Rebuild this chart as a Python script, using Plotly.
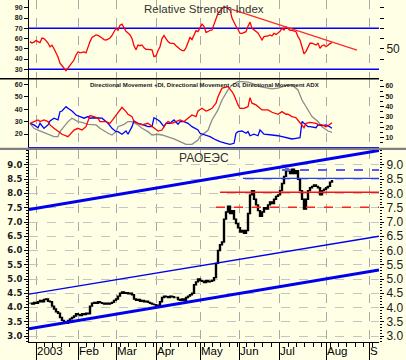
import plotly.graph_objects as go

# ---------------- DATA ----------------
# trading-day index 0..151 (Jan 2003 .. mid Aug 2003)
close = [4.15, 4.12, 4.18, 4.15, 4.20, 4.25, 4.20, 4.28, 4.30, 4.22,
         4.20, 4.05, 3.95, 3.85, 3.80, 3.65, 3.55, 3.50, 3.45, 3.55,
         3.60, 3.65, 3.70, 3.78, 3.75, 3.72, 3.78, 3.75, 3.80, 3.78,
         4.05, 4.15, 4.18, 4.15, 4.20, 4.17, 4.15, 4.12, 4.15, 4.12,
         4.15, 4.18, 4.25, 4.30, 4.40, 4.50, 4.55, 4.50, 4.52, 4.48,
         4.50, 4.45, 4.30, 4.25, 4.28, 4.22, 4.25, 4.20, 4.22, 4.18,
         4.15, 4.12, 4.10, 4.05, 4.08, 4.20, 4.35, 4.40, 4.38, 4.35,
         4.40, 4.38, 4.35, 4.35, 4.28, 4.25, 4.30, 4.25, 4.35, 4.40,
         4.45, 4.50, 4.80, 4.90, 5.00, 4.95, 4.92, 4.88, 4.95, 4.90,
         4.92, 4.95, 5.05, 5.55, 6.00, 6.20, 6.30, 7.10, 7.35, 7.55,
         7.30, 7.40, 7.10, 6.95, 6.80, 6.65, 6.70, 6.60, 6.70, 7.30,
         7.95, 8.10, 7.80, 7.60, 7.40, 7.20, 7.35, 7.50, 7.45, 7.60,
         7.70, 7.65, 7.80, 7.90, 7.95, 8.10, 8.35, 8.60, 8.85, 8.80,
         8.70, 8.85, 8.70, 8.80, 8.50, 8.10, 7.80, 7.45, 7.80, 8.10,
         8.20, 8.25, 8.30, 8.25, 8.20, 7.95, 8.10, 8.15, 8.20, 8.25,
         8.40, 8.45]
days = list(range(len(close)))
open_ = [close[0]] + close[:-1]

rsi = [57, 55.6, 56.5, 58, 57, 56, 60.5, 60, 58, 55.6,
       52, 53.5, 50, 46.5, 42, 36, 34, 31, 28.6, 31,
       34, 36.5, 39, 44, 47, 46, 46.5, 47, 46, 52,
       57, 61, 62.5, 63.5, 63, 62, 60.5, 59, 58.6, 59.5,
       60.5, 63, 67, 70, 68, 73, 74, 70, 67, 65.5,
       63.5, 60, 53, 49, 53.7, 53, 53.7, 51, 49.5, 49.5,
       49.5, 49, 42.3, 43, 48, 52, 60, 63, 60, 57,
       55.6, 55.6, 55, 53, 51, 49.5, 48.5, 48, 51, 57,
       61, 59, 64, 67.7, 66.7, 70, 74, 72, 66, 66.7,
       68, 68.3, 74, 78, 84.6, 87, 89.5, 91, 90.5, 89.5,
       88, 80, 75, 72, 69, 65, 65, 65.5, 66.7, 72,
       76, 70, 68.3, 67, 65.5, 62, 58.6, 61.8, 61.8, 62.5,
       63.5, 62.5, 65, 64, 65.5, 67, 70, 68.3, 71.5, 70,
       68, 68, 67.5, 66.7, 61.8, 58.6, 52, 45, 47.5, 52,
       55.4, 55.4, 54.5, 53.7, 55.4, 50.5, 53, 53.7, 52, 53.7,
       55, 56]

pdi_days = [0, 2, 4, 5, 7, 9, 10, 12, 14, 16, 19, 20, 22, 24, 26, 28, 29, 30, 32, 34,
            35, 38, 40, 42, 44, 45, 46, 48, 49, 51, 52, 54, 56, 59, 61, 63, 64, 66, 68, 69,
            71, 73, 75, 77, 79, 81, 83, 84, 86, 88, 89, 91, 93, 94, 96, 98, 99, 101, 102, 104,
            105, 107, 109, 110, 111, 113, 114, 116, 118, 119, 121, 123, 124, 126, 128, 129, 131, 133, 134, 136,
            137, 138, 140, 143, 144, 146, 148, 149, 151]
pdi = [28.6, 30, 31.3, 30, 31.3, 30, 27.3, 24.6, 21.9, 19.8, 17.9, 19.8, 23.2, 24.6, 23.2, 25.9, 30, 34.8, 34, 32.7,
       30, 30, 28.6, 32.7, 36.7, 39.4, 41.5, 38, 35.9, 34, 30, 28.6, 27.3, 28.6, 25.9, 23.2, 22.4, 23.2, 28.6, 30,
       28.6, 30, 31.3, 30, 32.7, 35.3, 34, 38.5, 40.7, 38.5, 39, 40.7, 44.8, 50, 56.9, 58.1, 58.1, 54.1, 51.4, 43.4,
       40.7, 40.7, 42, 49.3, 44.8, 43.4, 42, 39.4, 39.4, 39.4, 37.5, 36.7, 35.9, 38, 35.9, 35.9, 34, 33.1, 31.3, 27.3,
       25.1, 28.6, 29.4, 28.6, 27.8, 27.3, 25.9, 26.7, 29.1]

mdi_days = [0, 2, 4, 5, 7, 9, 10, 12, 14, 15, 16, 18, 19, 21, 23, 25, 27, 29, 30, 32,
            34, 36, 39, 41, 43, 44, 46, 48, 49, 51, 52, 54, 56, 59, 61, 62, 64, 65, 67, 68,
            70, 72, 74, 75, 77, 79, 81, 84, 85, 88, 90, 93, 95, 98, 100, 102, 103, 104, 106, 108,
            109, 110, 112, 114, 115, 117, 119, 121, 124, 126, 129, 131, 133, 135, 136, 137, 139, 140, 143, 144,
            146, 148, 149, 151]
mdi = [28.6, 27.3, 25.1, 28.6, 24.6, 27.3, 30.5, 32.7, 31.3, 38, 38.5, 42, 40.7, 38.5, 35.3, 34, 32.7, 34, 32.7, 33.1,
       33.1, 32.7, 28.6, 24.6, 21.9, 21.9, 19.8, 22.4, 19.8, 25.9, 30.5, 28.6, 27.8, 25.9, 25.9, 33.1, 31.3, 30, 25.9, 28.6,
       28.6, 31.3, 27.8, 30, 30, 28.6, 25.9, 23.2, 20.6, 19.2, 17.9, 15.2, 13.8, 12.5, 11.7, 12.5, 20.6, 21.9, 22.4, 20.6,
       21.9, 18.6, 19.8, 18.6, 23.2, 19.8, 19.2, 19.2, 18.6, 17.9, 16.5, 16, 16.5, 17, 30, 28.6, 25.9, 25.9, 25.1, 27.3,
       26.7, 27.3, 26.7, 24.6]

adx_days = [0, 2, 4, 7, 9, 12, 14, 15, 17, 19, 21, 24, 26, 29, 33, 35, 39, 41, 43, 44,
            47, 49, 51, 54, 56, 59, 61, 64, 66, 69, 72, 75, 78, 81, 84, 85, 89, 91, 94, 96,
            99, 101, 104, 106, 109, 112, 115, 119, 121, 124, 126, 129, 131, 134, 136, 139, 141, 144, 146, 149,
            151]
adx = [28.6, 24.6, 23.2, 21.4, 19.8, 17.9, 17.9, 21.9, 25.9, 30, 32.7, 30, 29.4, 27.8, 27.3, 24.6, 20.6, 19.2, 21.9, 25.9,
       27.8, 30, 30, 27.3, 24.6, 21.9, 19.2, 19.8, 19.2, 17.9, 16, 13.8, 11.7, 11.7, 15.2, 18, 23, 31.3, 39.4, 47.4,
       55.5, 59.5, 62.2, 62.2, 61.7, 60.1, 58.1, 56.9, 56.3, 56.9, 58.1, 59.5, 59.5, 55.5, 47.4, 39.4, 34, 30, 25.9, 22.4,
       21.4]

# trend channel (start/end day, price)
channel_days = [-0.5, 174.5]
channel_upper = [7.44, 9.51]
channel_mid = [4.47, 6.50]
channel_lower = [3.25, 5.32]

# horizontal support / resistance levels
level_values = [8.82, 8.53, 8.04, 7.52]
level_start_days = [126, 106.5, 95, 93]
level_colors = ["#5a5aff", "#2a3aff", "#ff1010", "#ff2020"]
level_widths = [2, 1.2, 1.5, 1.5]
level_dashes = ["dash", "solid", "solid", "dash"]
level_end_day = 174.5

# RSI trend line and bands
rsi_trend_days = [101, 163.5]
rsi_trend_vals = [88.5, 48.8]
rsi_bands = [70, 30]

# axes ticks / labels
month_tick_days = [3, 24, 43, 63, 85, 104.5, 124.5, 148, 169.5]
month_labels = ["2003", "Feb", "Mar", "Apr", "May", "Jun", "Jul", "Aug", "S"]
price_ticks = [3.0, 3.5, 4.0, 4.5, 5.0, 5.5, 6.0, 6.5, 7.0, 7.5, 8.0, 8.5, 9.0]
rsi_ticks = [30, 40, 50, 60, 70, 80, 90]
rsi_right_ticks = [40, 50, 60, 70, 80, 90]
rsi_right_labels = ["", "50", "", "", "", ""]
dmi_ticks = [20, 30, 40, 50, 60]
dmi_right_ticks = [10, 20, 30, 40, 50, 60]

# ---------------- LAYOUT GEOMETRY ----------------
W, H = 406, 360
ML, MR, MT, MB = 29, 27, 0, 18
PH = H - MT - MB          # plot height in px
PW = W - ML - MR          # plot width in px


def py(px):
    return 1 - px / PH


BG = "#ffffe6"
XR = [-0.5, 174.5]
GRID = "#a8a8a8"

fig = go.Figure()

# ---- price panel ----
fig.add_trace(go.Candlestick(
    x=days, open=open_, high=[max(o, c) for o, c in zip(open_, close)],
    low=[min(o, c) for o, c in zip(open_, close)], close=close,
    increasing=dict(line=dict(color="black", width=1.4), fillcolor="white"),
    decreasing=dict(line=dict(color="black", width=1.4), fillcolor="black"),
    xaxis="x", yaxis="y", showlegend=False, hoverinfo="skip"))

for vals, w in [(channel_upper, 3), (channel_mid, 1.4), (channel_lower, 3)]:
    fig.add_trace(go.Scatter(x=channel_days, y=vals, mode="lines",
                             line=dict(color="#0000ee", width=w),
                             xaxis="x", yaxis="y", showlegend=False, hoverinfo="skip"))

for v, s, c, w, d in zip(level_values, level_start_days, level_colors, level_widths, level_dashes):
    fig.add_trace(go.Scatter(x=[s, level_end_day], y=[v, v], mode="lines",
                             line=dict(color=c, width=w, dash=d),
                             xaxis="x", yaxis="y", showlegend=False, hoverinfo="skip"))

# dummy for right price axis
fig.add_trace(go.Scatter(x=[0], y=[5], mode="markers", marker=dict(opacity=0),
                         xaxis="x", yaxis="y4", showlegend=False, hoverinfo="skip"))

# ---- DMI panel ----
for dd, vv, col in [(adx_days, adx, "#8c8c8c"), (mdi_days, mdi, "#0000ff"), (pdi_days, pdi, "#ff0000")]:
    fig.add_trace(go.Scatter(x=dd, y=vv, mode="lines", line=dict(color=col, width=1.3),
                             xaxis="x2", yaxis="y2", showlegend=False, hoverinfo="skip"))
fig.add_trace(go.Scatter(x=[0], y=[30], mode="markers", marker=dict(opacity=0),
                         xaxis="x2", yaxis="y5", showlegend=False, hoverinfo="skip"))

# ---- RSI panel ----
for b in rsi_bands:
    fig.add_trace(go.Scatter(x=XR, y=[b, b], mode="lines", line=dict(color="#0000ff", width=1.5),
                             xaxis="x3", yaxis="y3", showlegend=False, hoverinfo="skip"))
fig.add_trace(go.Scatter(x=days, y=rsi, mode="lines", line=dict(color="#ff0000", width=1.3),
                         xaxis="x3", yaxis="y3", showlegend=False, hoverinfo="skip"))
fig.add_trace(go.Scatter(x=rsi_trend_days, y=rsi_trend_vals, mode="lines",
                         line=dict(color="#ff2a2a", width=1.3),
                         xaxis="x3", yaxis="y3", showlegend=False, hoverinfo="skip"))
fig.add_trace(go.Scatter(x=[0], y=[50], mode="markers", marker=dict(opacity=0),
                         xaxis="x3", yaxis="y6", showlegend=False, hoverinfo="skip"))

small_font = dict(family="Liberation Sans, Arial", size=7, color="#1a1a1a", weight="bold")
price_left_font = dict(family="DejaVu Sans", size=8.5, color="#1a1a1a", weight="bold")
right_font = dict(family="Liberation Sans, Arial", size=12, color="#1a1a1a")

xcommon = dict(range=XR, tickmode="array", tickvals=month_tick_days, showticklabels=False,
               showgrid=True, gridcolor=GRID, griddash="dash", gridwidth=1, zeroline=False)

price_range = [2.79, 9.526]
dmi_range = [9.78, 64.27]
dmi_right_range = [1.3, 66.8]
rsi_range = [21.0, 97.6]

fig.update_layout(
    width=W, height=H, margin=dict(l=ML, r=MR, t=MT, b=MB),
    paper_bgcolor=BG, plot_bgcolor=BG,
    xaxis=dict(domain=[0, 1], anchor="y", ticks="outside", ticklen=18, tickcolor="black",
               showline=True, linecolor="black", linewidth=1,
               minor=dict(ticks="outside", ticklen=4, tickmode="linear", tick0=3, dtick=4.2,
                          tickcolor="black", showgrid=False),
               rangeslider=dict(visible=False), **xcommon),
    yaxis=dict(domain=[0, py(150)], anchor="x", range=price_range, tickmode="array",
               tickvals=price_ticks, tickformat=".1f", ticks="outside", ticklen=4, tickcolor="black",
               showline=True, linecolor="black", showgrid=True, gridcolor="#c4c4c4", griddash="dash",
               zeroline=False, tickfont=price_left_font,
               minor=dict(ticks="outside", ticklen=2, dtick=0.1, tickcolor="black", showgrid=False)),
    yaxis4=dict(overlaying="y", side="right", anchor="x", range=price_range, tickmode="array",
                tickvals=price_ticks, tickformat=".1f", ticks="outside", ticklen=4, tickcolor="black",
                showline=False, showgrid=False, zeroline=False, tickfont=right_font,
                minor=dict(ticks="outside", ticklen=2, dtick=0.1, tickcolor="black", showgrid=False)),
    xaxis2=dict(domain=[0, 1], anchor="y2", matches="x", ticks="", showline=True,
                linecolor="#0000ff", linewidth=2, **xcommon),
    yaxis2=dict(domain=[py(146.7), py(79)], anchor="x2", range=dmi_range, tickmode="array",
                tickvals=dmi_ticks, ticks="outside", ticklen=4, tickcolor="black",
                showline=True, linecolor="black", showgrid=False, zeroline=False, tickfont=small_font),
    yaxis5=dict(overlaying="y2", side="right", anchor="x2", range=dmi_right_range, tickmode="array",
                tickvals=dmi_right_ticks, ticks="outside", ticklen=4, tickcolor="black",
                showline=False, showgrid=False, zeroline=False, tickfont=small_font,
                minor=dict(ticks="outside", ticklen=3, dtick=5, tickcolor="black", showgrid=False)),
    xaxis3=dict(domain=[0, 1], anchor="y3", matches="x", ticks="", showline=False, **xcommon),
    yaxis3=dict(domain=[py(78.5), 1], anchor="x3", range=rsi_range, tickmode="array",
                tickvals=rsi_ticks, ticks="outside", ticklen=4, tickcolor="black",
                showline=True, linecolor="black", showgrid=False, zeroline=False, tickfont=small_font),
    yaxis6=dict(overlaying="y3", side="right", anchor="x3", range=rsi_range, tickmode="array",
                tickvals=rsi_right_ticks, ticktext=rsi_right_labels, ticks="outside", ticklen=4,
                tickcolor="black", showline=False, showgrid=False, zeroline=False, tickfont=right_font),
    shapes=[
        dict(type="line", xref="paper", yref="paper", x0=-ML / PW, x1=1, y0=py(78.7), y1=py(78.7),
             line=dict(color="black", width=1.5)),
        dict(type="line", xref="paper", yref="paper", x0=-ML / PW, x1=1 + MR / PW,
             y0=py(148.8), y1=py(148.8), line=dict(color="#808080", width=2.2)),
    ],
    showlegend=False,
)

annotations = [
    dict(text="Relative Strength Index", xref="paper", yref="paper", x=(203.5 - ML) / PW, y=py(8.5),
         showarrow=False, xanchor="center", yanchor="middle",
         font=dict(family="Liberation Sans, Arial", size=11.5, color="#333333")),
    dict(text="Directional Movement +DI, Directional Movement -DI, Directional Movement ADX",
         xref="paper", yref="paper", x=(204.5 - ML) / PW, y=py(85), showarrow=False,
         xanchor="center", yanchor="middle",
         font=dict(family="Liberation Sans, Arial", size=6, color="#1a1a1a", weight="bold")),
    dict(text="РАОЕЭС", xref="paper", yref="paper", x=(204 - ML) / PW, y=py(157.5),
         showarrow=False, xanchor="center", yanchor="middle",
         font=dict(family="Liberation Sans, Arial", size=12, color="#333333")),
]
for d, lab in zip(month_tick_days, month_labels):
    annotations.append(dict(text=lab, xref="x", yref="paper", x=d, y=py(351.5), showarrow=False,
                            xanchor="left", yanchor="middle", xshift=-1,
                            font=dict(family="Liberation Sans, Arial", size=11.5, color="black")))
fig.update_layout(annotations=annotations)

fig.write_html("out.html")
